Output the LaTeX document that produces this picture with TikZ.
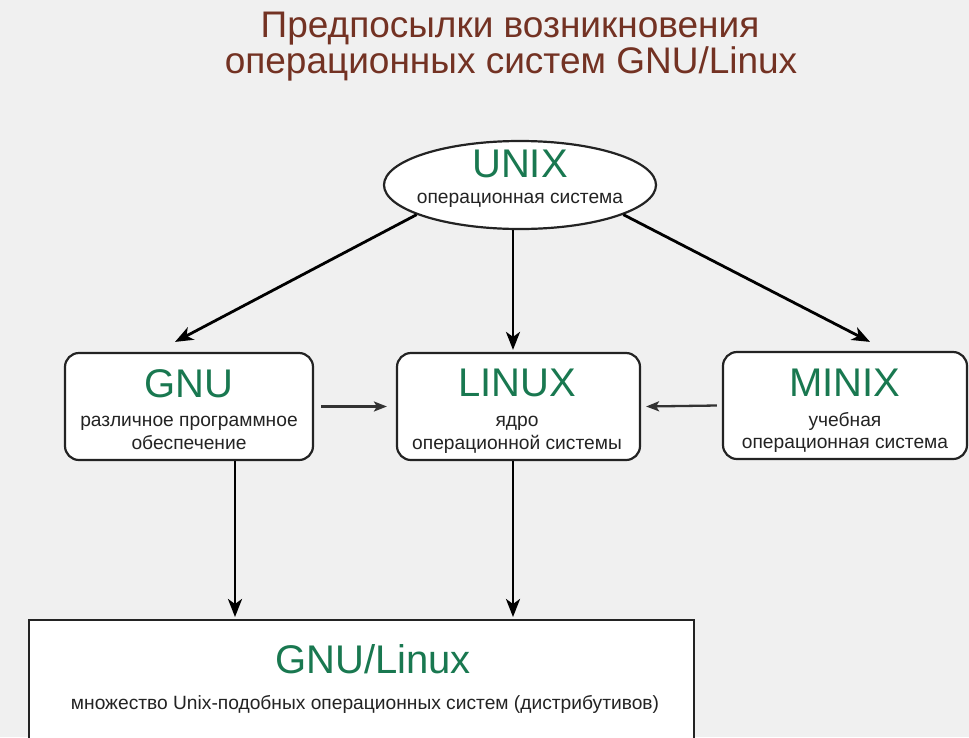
\documentclass[tikz,border=0pt]{standalone}
\usepackage{fontspec}
\setmainfont{Liberation Sans}
\usetikzlibrary{shapes.geometric,arrows.meta}
\definecolor{bg}{RGB}{240,240,240}
\definecolor{ttl}{RGB}{115,50,35}
\definecolor{grn}{RGB}{25,120,80}
\definecolor{txt}{RGB}{35,35,35}
\definecolor{edge}{RGB}{35,35,35}
\begin{document}
\begin{tikzpicture}[x=1pt,y=-1pt,
  rbox/.style={draw=edge,line width=2.2pt,fill=white,rounded corners=14pt,minimum width=#1,minimum height=107pt,inner sep=0pt},
  big/.style={text=grn,font=\fontsize{40}{40}\selectfont,anchor=base,inner sep=0pt},
  small/.style={text=txt,font=\fontsize{19.2}{23}\selectfont,anchor=base,inner sep=0pt},
  titlestyle/.style={text=ttl,font=\fontsize{37}{37}\selectfont,anchor=base,inner sep=0pt},
  thickarr/.style={draw=black,line width=2.8pt,-{Stealth[length=18pt,width=14pt,inset=5pt]}},
  thinarr/.style={draw=black!80,line width=2.3pt,-{Stealth[length=13pt,width=10pt,inset=3pt]}}
]
\clip (0,0) rectangle (969,737);
\fill[bg] (0,0) rectangle (969,737);

% title
\node[titlestyle] (t1) at (510,37) {Предпосылки возникновения};
\node[titlestyle] (t2) at (511,73) {операционных систем GNU/Linux};

% UNIX
\node[ellipse,draw=edge,line width=2.2pt,fill=white,minimum width=272pt,minimum height=88pt,inner sep=0pt] (unix) at (520,185) {};
\node[big] (unixt) at (520,177) {UNIX};
\node[small] (unixs) at (520,203) {операционная система};

% GNU
\node[rbox=248pt] (gnu) at (189,406.5) {};
\node[big] (gnut) at (189,397) {GNU};
\node[small] (gnus1) at (189,426) {различное программное};
\node[small] (gnus2) at (189,449) {обеспечение};

% LINUX
\node[rbox=243pt] (linux) at (518.5,406.5) {};
\node[big] (linuxt) at (517,396) {LINUX};
\node[small] (linuxs1) at (517,426) {ядро};
\node[small] (linuxs2) at (517,449) {операционной системы};

% MINIX
\node[rbox=244pt] (minix) at (845,405.5) {};
\node[big] (minixt) at (845,396) {MINIX};
\node[small] (minixs1) at (845,426) {учебная};
\node[small] (minixs2) at (845,448) {операционная система};

% GNU/Linux
\node[draw=edge,line width=2.2pt,fill=white,minimum width=665pt,minimum height=200pt,inner sep=0pt,anchor=north west] (gl) at (28,619) {};
\node[big] (glt) at (373,673) {GNU/Linux};
\node[small] (gls) at (365,709) {множество Unix-подобных операционных систем (дистрибутивов)};

% helper x positions
\coordinate (lx) at (513,0);
\coordinate (gx) at (235,0);

% arrows
\draw[thickarr] (unix.196) -- ([xshift=-14pt,yshift=10pt]gnu.north);
\draw[thickarr] (unix.344) -- ([xshift=25pt,yshift=9pt]minix.north);
\draw[thickarr] (unix.south -| lx) -- ([yshift=2pt]linux.north -| lx);
\draw[thickarr] (gnu.south -| gx) -- ([yshift=2pt]gl.north -| gx);
\draw[thickarr] (linux.south -| lx) -- ([yshift=2pt]gl.north -| lx);
\draw[thinarr] ([xshift=7pt]gnu.east) -- ([xshift=-9pt]linux.west);
\draw[thinarr] ([xshift=-5pt]minix.west) -- ([xshift=5pt]linux.east);
\end{tikzpicture}
\end{document}
